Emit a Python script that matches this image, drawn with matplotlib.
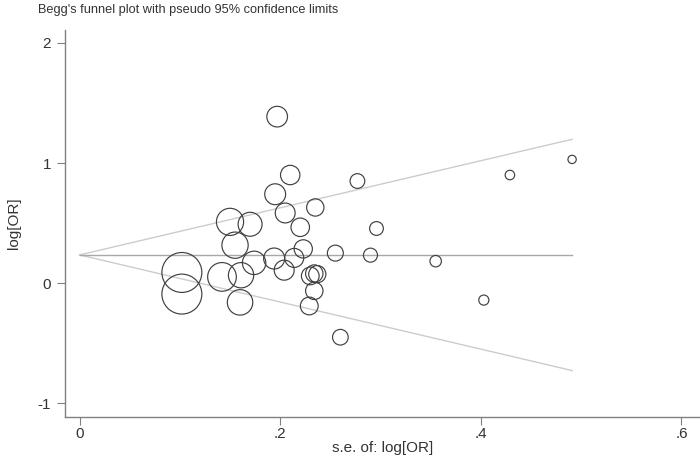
import matplotlib
matplotlib.use("Agg")
import matplotlib.pyplot as plt
import numpy as np

plt.rcParams['font.family'] = ['Liberation Sans', 'DejaVu Sans']
plt.rcParams['axes.unicode_minus'] = False

# Data
se = [0.197, 0.210, 0.195, 0.205, 0.235, 0.150, 0.170, 0.220, 0.155, 0.223,
      0.255, 0.102, 0.102, 0.142, 0.161, 0.174, 0.194, 0.204, 0.214, 0.160,
      0.230, 0.234, 0.237, 0.234, 0.229, 0.260, 0.277, 0.429, 0.491, 0.296,
      0.290, 0.355, 0.403]
logor = [1.386, 0.90, 0.74, 0.584, 0.63, 0.51, 0.49, 0.465, 0.316, 0.285,
         0.25, 0.089, -0.091, 0.052, 0.066, 0.169, 0.205, 0.108, 0.21, -0.16,
         0.06, 0.08, 0.075, -0.064, -0.19, -0.45, 0.85, 0.90, 1.03, 0.455,
         0.233, 0.183, -0.141]
pooled = 0.235
xticks = [0, 0.2, 0.4, 0.6]
xticklabels = ["0", ".2", ".4", ".6"]
yticks = [-1, 0, 1, 2]
yticklabels = ["-1", "0", "1", "2"]

W, H = 700, 461
fig = plt.figure(figsize=(W / 100, H / 100), dpi=100)
ax = fig.add_axes([65 / W, 1 - 417 / H, 1 - 65 / W, (417 - 30) / H])

se_arr = np.asarray(se)
lo_arr = np.asarray(logor)
maxse = se_arr.max()

# funnel lines
xs = np.array([0, maxse])
ax.plot(xs, pooled + 1.96 * xs, color='#cccccc', lw=1.0, zorder=1)
ax.plot(xs, pooled - 1.96 * xs, color='#cccccc', lw=1.0, zorder=1)
ax.plot(xs, [pooled, pooled], color='#a8a8a8', lw=1.0, zorder=1)

# markers sized by weight 1/se^2
sizes = 8.6 / se_arr ** 2
ax.scatter(se_arr, lo_arr, s=sizes, facecolors='none', edgecolors='#404040',
           linewidths=0.85, zorder=3)

ax.set_xlim(-0.0145, 0.6185)
ax.set_ylim(-1.114, 2.107)

for s in ['top', 'right']:
    ax.spines[s].set_visible(False)
for s in ['left', 'bottom']:
    ax.spines[s].set_color('#808080')
    ax.spines[s].set_linewidth(1.0)

ax.set_xticks(xticks)
ax.set_xticklabels(xticklabels)
ax.set_yticks(yticks)
ax.set_yticklabels(yticklabels)
ax.tick_params(axis='both', direction='out', length=6, width=0.8,
               color='#808080', labelsize=11, labelcolor='#333333')
ax.tick_params(axis='y', pad=4)
ax.tick_params(axis='x', pad=1.5)

ax.set_xlabel("s.e. of: log[OR]", fontsize=11, color='#333333', labelpad=0)
ax.set_ylabel("log[OR]", fontsize=11, color='#333333', labelpad=12)

fig.text(38 / W, 1 - 10 / H, "Begg's funnel plot with pseudo 95% confidence limits",
         fontsize=9.2, color='#333333', ha='left', va='center')

fig.savefig("out.png", dpi=100)
